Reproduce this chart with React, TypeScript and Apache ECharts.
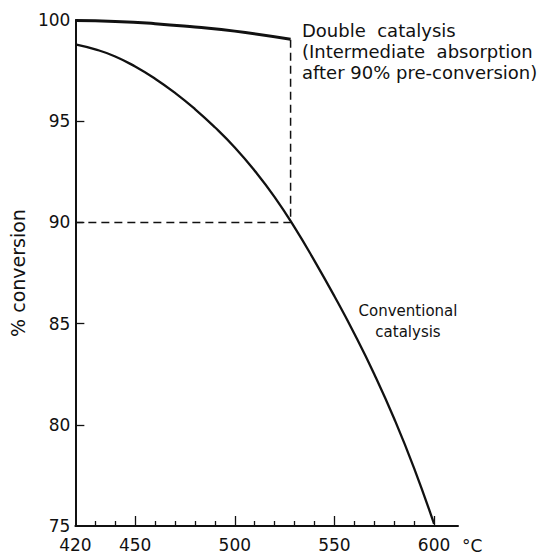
import React, { useEffect, useRef } from "react";
import * as echarts from "echarts";

const conventionalTemp = [420, 430, 440, 450, 460, 470, 480, 490, 500, 510, 520, 530, 540, 550, 560, 570, 580, 590, 600];
const conventionalConv = [98.8, 98.55, 98.2, 97.7, 97.1, 96.4, 95.6, 94.7, 93.7, 92.55, 91.25, 89.75, 88.1, 86.35, 84.5, 82.5, 80.3, 77.85, 75.1];
const doubleTemp = [420, 440, 460, 480, 500, 528];
const doubleConv = [99.97, 99.93, 99.82, 99.65, 99.45, 99.05];
const switchTemp = 528;
const switchConv = 90;
const xLabelValues = [420, 450, 500, 550, 600];
const xMajorTicks = [450, 500, 550, 600];
const xMinorTicks = [430, 440, 460, 470, 480, 490, 510, 520, 530, 540, 560, 570, 580, 590];
const yTickValues = [80, 85, 90, 95];
const xMin = 420;
const xMax = 612;
const yMin = 75;
const yMax = 100;

const FONT = "DejaVu Sans";
const INK = "#111111";

export default function App() {
  const ref = useRef<HTMLDivElement>(null);
  useEffect(() => {
    if (!ref.current) return;
    const chart = echarts.init(ref.current, null, { renderer: "svg" });
    const conventional = conventionalTemp.map((t, i) => [t, conventionalConv[i]]);
    const double = doubleTemp.map((t, i) => [t, doubleConv[i]]);
    const lastDouble = doubleConv[doubleConv.length - 1];
    chart.setOption({
      animation: false,
      backgroundColor: "#ffffff",
      grid: { left: 70, right: 102, top: 20, bottom: 31 },
      xAxis: [
        {
          type: "value",
          min: xMin,
          max: xMax,
          splitLine: { show: false },
          axisLine: { show: true, lineStyle: { color: INK, width: 2 } },
          axisTick: { show: true, inside: true, length: 5, customValues: xMinorTicks, lineStyle: { color: INK, width: 1.3 } },
          axisLabel: { customValues: xLabelValues, color: INK, fontFamily: FONT, fontSize: 17, margin: 10 },
        },
        {
          type: "value",
          min: xMin,
          max: xMax,
          position: "bottom",
          splitLine: { show: false },
          axisLine: { show: false },
          axisTick: { show: true, inside: true, length: 10, customValues: xMajorTicks, lineStyle: { color: INK, width: 1.3 } },
          axisLabel: { show: false },
        },
      ],
      yAxis: {
        type: "value",
        min: yMin,
        max: yMax,
        interval: 5,
        name: "% conversion",
        nameLocation: "middle",
        nameGap: 44,
        nameTextStyle: { color: INK, fontFamily: FONT, fontSize: 19 },
        splitLine: { show: false },
        axisLine: { show: true, lineStyle: { color: INK, width: 2 } },
        axisTick: { show: true, inside: true, length: 9, customValues: yTickValues, lineStyle: { color: INK, width: 1.3 } },
        axisLabel: { color: INK, fontFamily: FONT, fontSize: 17, margin: 5 },
      },
      series: [
        {
          type: "line",
          data: conventional,
          smooth: 0.5,
          showSymbol: false,
          lineStyle: { color: INK, width: 2.3 },
        },
        {
          type: "line",
          data: double,
          smooth: 0.5,
          showSymbol: false,
          lineStyle: { color: INK, width: 3 },
        },
        {
          type: "line",
          data: [[xMin, switchConv], [switchTemp, switchConv], [switchTemp, lastDouble]],
          showSymbol: false,
          lineStyle: { color: INK, width: 1.5, type: [8, 5] },
        },
      ],
      graphic: [
        {
          type: "text",
          left: 302,
          top: 20,
          style: {
            text: "Double  catalysis\n(Intermediate  absorption\nafter 90% pre-conversion)",
            font: `18px '${FONT}'`,
            lineHeight: 21,
            fill: INK,
          },
        },
        {
          type: "text",
          x: 408,
          y: 300,
          style: {
            text: "Conventional\ncatalysis",
            font: `15px '${FONT}'`,
            lineHeight: 21,
            textAlign: "center",
            fill: INK,
          },
        },
        {
          type: "text",
          left: 462,
          top: 537,
          style: { text: "°C", font: `17px '${FONT}'`, fill: INK },
        },
      ],
    });
    return () => chart.dispose();
  }, []);
  return <div ref={ref} style={{ position: "fixed", left: 0, top: 0, width: 560, height: 557 }} />;
}
